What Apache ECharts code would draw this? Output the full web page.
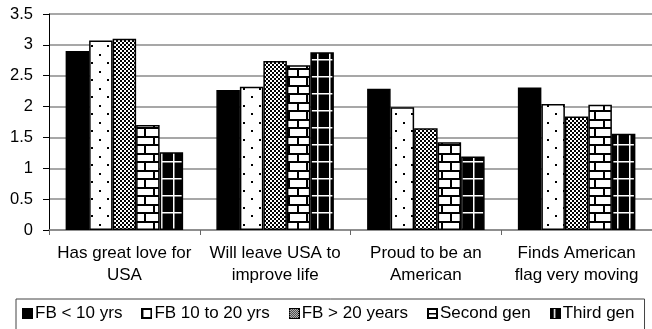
<!DOCTYPE html>
<html>
<head>
<meta charset="utf-8">
<script src="https://cdn.jsdelivr.net/npm/echarts@6/dist/echarts.min.js"></script>
<style>
  html, body { margin: 0; padding: 0; background: #fff; }
  #chart { width: 652px; height: 329px; }
</style>
</head>
<body>
<div id="chart"></div>
<script>
// Survey statements (x-axis categories)
const categories = [
  'Has great love for\nUSA',
  'Will leave USA to\nimprove life',
  'Proud to be an\nAmerican',
  'Finds American\nflag very moving'
];

// Mean scores per group
const fbUnder10 = [2.90, 2.27, 2.29, 2.31];
const fb10to20 = [3.07, 2.32, 1.99, 2.04];
const fbOver20 = [3.10, 2.74, 1.65, 1.84];
const secondGen = [1.70, 2.67, 1.42, 2.03];
const thirdGen = [1.26, 2.88, 1.19, 1.56];

const seriesNames = ['FB < 10 yrs', 'FB 10 to 20 yrs', 'FB > 20 years', 'Second gen', 'Third gen'];
const yTicks = { min: 0, max: 3.5, step: 0.5 };

// --- fill patterns drawn on small canvases ---
function makeCanvas(w, h, draw) {
  const c = document.createElement('canvas');
  c.width = w; c.height = h;
  draw(c.getContext('2d'), w, h);
  return c;
}
function tile(w, h, draw) {
  return { image: makeCanvas(w, h, draw), repeat: 'repeat' };
}

const solidBlack = '#000';

const dots = tile(16, 17, (ctx, w, h) => {
  ctx.fillStyle = '#fff'; ctx.fillRect(0, 0, w, h);
  ctx.fillStyle = '#000';
  ctx.fillRect(3, 3, 2, 2);
  ctx.fillRect(11, 11, 2, 2);
});

const checker = tile(4, 4, (ctx, w, h) => {
  ctx.fillStyle = '#fff'; ctx.fillRect(0, 0, w, h);
  ctx.fillStyle = '#000';
  ctx.fillRect(0, 0, 2, 2);
  ctx.fillRect(2, 2, 2, 2);
});

const bricks = tile(18, 17, (ctx, w, h) => {
  ctx.fillStyle = '#fff'; ctx.fillRect(0, 0, w, h);
  ctx.fillStyle = '#000';
  ctx.fillRect(0, 0, w, 2);
  ctx.fillRect(0, 8, w, 2);
  ctx.fillRect(9, 0, 2, 8);
  ctx.fillRect(0, 8, 2, 9);
});

const gridBlack = tile(12, 17, (ctx, w, h) => {
  ctx.fillStyle = '#000'; ctx.fillRect(0, 0, w, h);
  ctx.fillStyle = '#fff';
  ctx.fillRect(5, 0, 1.5, h);
  ctx.fillRect(0, 8, w, 1.5);
});

const fills = [solidBlack, dots, checker, bricks, gridBlack];
const values = [fbUnder10, fb10to20, fbOver20, secondGen, thirdGen];

// --- small legend swatches ---
const S = 11;
function swatch(draw) {
  return 'image://' + makeCanvas(S, S, draw).toDataURL();
}
const legendIcons = [
  swatch((ctx) => { ctx.fillStyle = '#000'; ctx.fillRect(0, 0, S, S); }),
  swatch((ctx) => {
    ctx.fillStyle = '#000'; ctx.fillRect(0, 0, S, S);
    ctx.fillStyle = '#fff'; ctx.fillRect(2, 2, S - 4, S - 4);
  }),
  swatch((ctx) => {
    ctx.fillStyle = '#000'; ctx.fillRect(0, 0, S, S);
    ctx.fillStyle = '#fff'; ctx.fillRect(1, 1, S - 2, S - 2);
    ctx.fillStyle = '#000';
    for (let y = 1; y < S - 1; y++) {
      for (let x = 1; x < S - 1; x++) {
        if ((x + y) % 2 === 0) ctx.fillRect(x, y, 1, 1);
      }
    }
  }),
  swatch((ctx) => {
    ctx.fillStyle = '#000'; ctx.fillRect(0, 0, S, S);
    ctx.fillStyle = '#fff'; ctx.fillRect(2, 2, S - 4, S - 4);
    ctx.fillStyle = '#000'; ctx.fillRect(0, 5, S, 1.5);
  }),
  swatch((ctx) => {
    ctx.fillStyle = '#000'; ctx.fillRect(0, 0, S, S);
    ctx.fillStyle = '#fff'; ctx.fillRect(4, 1, 1.5, S - 2);
  })
];

const font = '"Liberation Sans", Arial, Helvetica, sans-serif';

const chart = echarts.init(document.getElementById('chart'), null, { renderer: 'canvas' });

chart.setOption({
  animation: false,
  backgroundColor: '#fff',
  textStyle: { fontFamily: font, color: '#000' },
  grid: { left: 49, top: 14, width: 609, height: 216, containLabel: false },
  legend: {
    left: 16,
    top: 299,
    padding: [6, 10, 10, 6],
    borderColor: '#444',
    borderWidth: 1,
    itemWidth: S,
    itemHeight: S,
    itemGap: 19,
    selectedMode: false,
    textStyle: { fontFamily: font, fontSize: 17, color: '#000', padding: [0, 0, 0, -3] },
    data: seriesNames.map((name, i) => ({ name: name, icon: legendIcons[i] }))
  },
  xAxis: {
    type: 'category',
    data: categories,
    axisLine: { lineStyle: { color: '#888', width: 1.5 } },
    axisTick: { show: true, length: 5, lineStyle: { color: '#666' } },
    axisLabel: {
      interval: 0,
      margin: 12,
      fontFamily: font,
      fontSize: 17,
      lineHeight: 22,
      color: '#000',
      align: 'center'
    },
    splitLine: { show: false }
  },
  yAxis: {
    type: 'value',
    min: yTicks.min,
    max: yTicks.max,
    interval: yTicks.step,
    axisLine: { show: true, lineStyle: { color: '#000', width: 1 } },
    axisTick: { show: true, length: 6, lineStyle: { color: '#000' } },
    axisLabel: { margin: 16, fontFamily: font, fontSize: 16.5, color: '#000' },
    splitLine: { show: true, lineStyle: { color: '#8a8a8a', width: 1.5 } }
  },
  series: seriesNames.map((name, i) => ({
    name: name,
    type: 'bar',
    data: values[i],
    barWidth: 23.5,
    barGap: '0%',
    itemStyle: {
      color: fills[i],
      borderColor: '#000',
      borderWidth: 1.5
    },
    emphasis: { disabled: true }
  }))
});
</script>
</body>
</html>
